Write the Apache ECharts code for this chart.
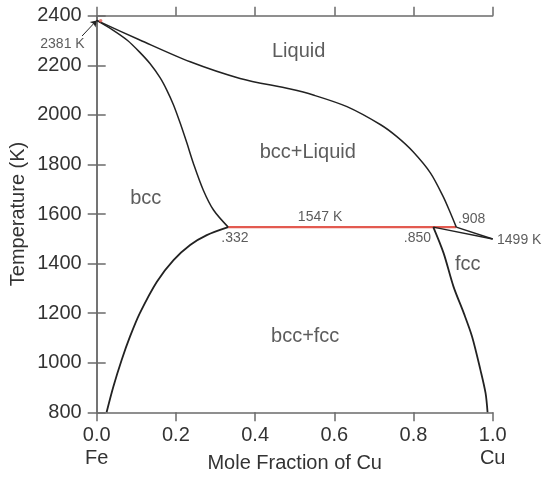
<!DOCTYPE html>
<html>
<head>
<meta charset="utf-8">
<script src="https://cdn.jsdelivr.net/npm/echarts@6/dist/echarts.min.js"></script>
<style>
html,body{margin:0;padding:0;background:#fff;}
#c{width:543px;height:478px;}
</style>
</head>
<body>
<div id="c"></div>
<script>
// ---- data (mole fraction Cu, temperature K) ----
const xTicks = [0, 0.2, 0.4, 0.6, 0.8, 1.0];
const yTicks = [800, 1000, 1200, 1400, 1600, 1800, 2000, 2200, 2400];
const liquidus = [[0,2381],[0.109,2302],[0.236,2214],[0.362,2147],[0.489,2104],[0.547,2080],[0.632,2033],[0.717,1960],[0.758,1912],[0.799,1851],[0.843,1765],[0.875,1670],[0.893,1605],[0.908,1547]];
const liquidusTail = [[0.908,1547],[1.0,1499]];
const bccSolidus = [[0,2381],[0.04,2343],[0.078,2300],[0.109,2252],[0.135,2206],[0.160,2150],[0.177,2100],[0.194,2040],[0.211,1966],[0.228,1885],[0.244,1805],[0.269,1697],[0.295,1616],[0.332,1547]];
const bccSolvus = [[0.332,1547],[0.278,1515],[0.236,1475],[0.194,1414],[0.152,1327],[0.109,1200],[0.084,1105],[0.063,1011],[0.042,903],[0.025,800]];
const fccSolidus = [[0.850,1547],[1.0,1499]];
const fccSolvus = [[0.850,1547],[0.876,1442],[0.901,1307],[0.927,1200],[0.948,1105],[0.969,971],[0.982,877],[0.987,800]];
const eutectic = [[0.332,1547],[0.908,1547]];
const meltDot = [[0.01,2380]];
const regionLabels = [
  {value:[0.510,2257], name:'Liquid'},
  {value:[0.533,1847], name:'bcc+Liquid'},
  {value:[0.124,1662], name:'bcc'},
  {value:[0.937,1396], name:'fcc'},
  {value:[0.5265,1104], name:'bcc+fcc'}
];
const pointLabels = [
  {value:[0.564,1588], name:'1547 K'},
  {value:[0.947,1581], name:'.908'},
  {value:[0.349,1503], name:'.332'},
  {value:[0.810,1504], name:'.850'},
  {value:[1.067,1496], name:'1499 K'},
  {value:[-0.0864,2285], name:'2381 K'}
];
const arrow = [[-0.037,2318],[0,2381]];

const AX = '#6b6b6b', TXT = '#333', LINE = '#222', RED = '#e35a50';
const FONT = 'Liberation Sans, Arial, Helvetica, sans-serif';

const chart = echarts.init(document.getElementById('c'), null, {renderer:'canvas'});
function curve(data, color, width){
  return {type:'line', data, showSymbol:false, symbol:'none', smooth:0.3, clip:false,
    lineStyle:{color, width}, silent:true, animation:false, z:3};
}
const axisCommon = {
  min:0, max:1, interval:0.2,
  axisLine:{show:true, lineStyle:{color:AX, width:1.5}},
  axisTick:{show:true, inside:false, length:9, lineStyle:{color:AX, width:1.5}},
  splitLine:{show:false}
};
chart.setOption({
  animation:false,
  backgroundColor:'#fff',
  textStyle:{fontFamily:FONT},
  grid:{left:96.7, right:50.3, top:15.7, bottom:65.7, containLabel:false, outerBoundsMode:'none'},
  xAxis:[
    Object.assign({}, axisCommon, {type:'value', position:'bottom',
      name:'Mole Fraction of Cu', nameLocation:'middle', nameGap:41, nameMoveOverlap:false,
      nameTextStyle:{color:TXT, fontSize:20, fontFamily:FONT},
      axisLabel:{color:TXT, fontSize:20, fontFamily:FONT, margin:12, lineHeight:23,
        formatter:function(v){
          const s = v.toFixed(1);
          if (Math.abs(v) < 1e-9) return s + '\nFe';
          if (Math.abs(v-1) < 1e-9) return s + '\nCu';
          return s;
        }}}),
    Object.assign({}, axisCommon, {type:'value', position:'top', axisLabel:{show:false}})
  ],
  yAxis:[
    {type:'value', min:800, max:2400, interval:200, position:'left',
      name:'Temperature (K)', nameLocation:'middle', nameGap:68, nameMoveOverlap:false,
      nameTextStyle:{color:TXT, fontSize:20, fontFamily:FONT},
      axisLine:{show:true, lineStyle:{color:AX, width:1.5}},
      axisTick:{show:true, inside:false, length:9, lineStyle:{color:AX, width:1.5}},
      axisLabel:{color:TXT, fontSize:20, fontFamily:FONT, margin:15,
        formatter:function(v){return String(v);}},
      splitLine:{show:false}},
    {type:'value', min:800, max:2400, interval:200, position:'right',
      axisLine:{show:true, lineStyle:{color:AX, width:1.5}},
      axisTick:{show:true, inside:false, length:9, lineStyle:{color:AX, width:1.5}},
      axisLabel:{show:false}, splitLine:{show:false}}
  ],
  series:[
    curve(liquidus, LINE, 1.5),
    Object.assign(curve(liquidusTail, LINE, 1.5), {smooth:false}),
    curve(bccSolidus, LINE, 1.5),
    curve(bccSolvus, LINE, 1.8),
    Object.assign(curve(fccSolidus, LINE, 1.5), {smooth:false}),
    curve(fccSolvus, LINE, 1.8),
    Object.assign(curve(eutectic, RED, 2.2), {smooth:false, z:2}),
    {type:'scatter', data:meltDot, symbolSize:3.5, itemStyle:{color:RED}, silent:true, clip:false, z:4},
    {type:'lines', coordinateSystem:'cartesian2d', clip:false, silent:true, z:4,
      symbol:['none','arrow'], symbolSize:6,
      lineStyle:{color:LINE, width:1, opacity:1},
      data:[{coords:arrow}]},
    {type:'scatter', data:regionLabels, symbolSize:0, silent:true, clip:false, z:5,
      label:{show:true, position:'inside', color:TXT, fontSize:20, fontFamily:FONT,
        formatter:function(p){return p.name;}}},
    {type:'scatter', data:pointLabels, symbolSize:0, silent:true, clip:false, z:5,
      label:{show:true, position:'inside', color:TXT, fontSize:14, fontFamily:FONT,
        formatter:function(p){return p.name;}}}
  ]
});
</script>
</body>
</html>
